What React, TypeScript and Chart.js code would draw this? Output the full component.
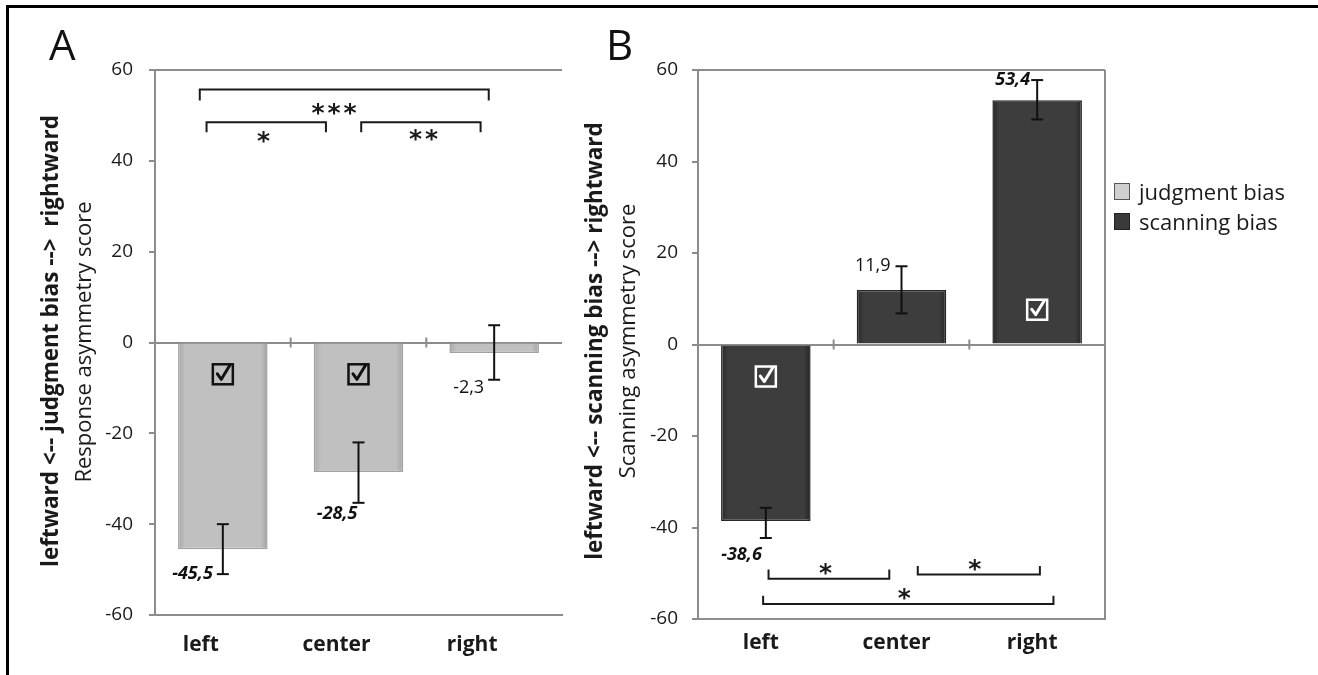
import React, { useEffect, useRef } from "react";
import { Chart, registerables } from "chart.js";
Chart.register(...registerables);

// ---------- data ----------
const categories = ["left", "center", "right"];
const yTicks = [-60, -40, -20, 0, 20, 40, 60];

const judgmentValues = [-45.5, -28.5, -2.3];
const judgmentErrLow = [-51, -35.3, -8.2];
const judgmentErrHigh = [-40, -22, 3.8];
const judgmentChecks = [-7, -7, null];

const scanningValues = [-38.6, 11.9, 53.4];
const scanningErrLow = [-42.3, 6.8, 49.2];
const scanningErrHigh = [-35.7, 17.1, 57.8];
const scanningChecks = [-7, null, 7.6];

// significance brackets: [from, to, lineY, tipY] in category / value units
const judgmentBrackets = [
  [-0.17, 1.96, 55.7, 53.3],
  [-0.12, 0.76, 48.5, 46.3],
  [1.02, 1.9, 48.5, 46.3],
];
const judgmentStars = ["***", "*", "**"];
const judgmentStarPos = [
  [0.82, 52.0],
  [0.3, 46.0],
  [1.48, 46.3],
];

const scanningBrackets = [
  [0.02, 0.91, -51.2, -49.2],
  [1.12, 2.02, -50.3, -48.4],
  [-0.02, 2.12, -56.7, -54.9],
];
const scanningStars = ["*", "*", "*"];
const scanningStarPos = [
  [0.44, -48.4],
  [1.54, -47.5],
  [1.02, -53.8],
];

// value label anchors (px offset from category centre, value units)
const judgmentLabelDx = [-10, -1, -10];
const judgmentLabelY = [-51, -37.7, -10.1];
const judgmentLabelBold = [true, true, false];

const scanningLabelDx = [-4, -11, -7];
const scanningLabelY = [-45.9, 17.1, 57.8];
const scanningLabelBold = [true, false, true];

// ---------- style ----------
const AXIS = "#8c8c8c";
const FONT = "'Open Sans', sans-serif";
const LIGHT = ["#a8a8a8", "#c0c0c0", "#c0c0c0", "#a3a3a3"];
const DARK = ["#292929", "#3d3d3d", "#3d3d3d", "#262626"];

const fmt = (v: number) => v.toFixed(1).replace(".", ",");

type Panel = {
  values: number[];
  errLow: number[];
  errHigh: number[];
  checks: (number | null)[];
  checkColor: string;
  shades: string[];
  borderColor: string;
  brackets: number[][];
  stars: string[];
  starPos: number[][];
  labelDx: number[];
  labelY: number[];
  labelBold: boolean[];
  yAxisWidth: number;
  rightPad: number;
  xHeight: number;
  xPad: number;
  labelOffset: number;
  rightBorder: boolean;
  tickPad: number;
};

const BAR_PCT = 0.66;

function line(ctx: CanvasRenderingContext2D, x1: number, y1: number, x2: number, y2: number) {
  ctx.beginPath();
  ctx.moveTo(x1, y1);
  ctx.lineTo(x2, y2);
  ctx.stroke();
}

function drawCheck(ctx: CanvasRenderingContext2D, cx: number, cy: number, color: string) {
  ctx.save();
  ctx.strokeStyle = color;
  ctx.lineWidth = 2.5;
  ctx.strokeRect(cx - 10, cy - 10, 20, 20);
  ctx.lineWidth = 3;
  ctx.lineJoin = "round";
  ctx.lineCap = "round";
  ctx.beginPath();
  ctx.moveTo(cx - 5.5, cy - 0.5);
  ctx.lineTo(cx - 1.5, cy + 5);
  ctx.lineTo(cx + 7, cy - 9);
  ctx.stroke();
  ctx.restore();
}

function barFill(shades: string[]) {
  return (c: any) => {
    const chart = c.chart;
    const xs = chart.scales && chart.scales.x;
    if (!chart.chartArea || !xs || c.dataIndex === undefined) return shades[1];
    const cx = xs.getPixelForValue(c.dataIndex);
    const w = (xs.width / categories.length) * BAR_PCT;
    const g = chart.ctx.createLinearGradient(cx - w / 2, 0, cx + w / 2, 0);
    g.addColorStop(0, shades[0]);
    g.addColorStop(0.08, shades[1]);
    g.addColorStop(0.92, shades[2]);
    g.addColorStop(1, shades[3]);
    return g;
  };
}

function overlay(p: Panel) {
  return {
    id: "overlay",
    afterDatasetsDraw(chart: any) {
      const ctx: CanvasRenderingContext2D = chart.ctx;
      const xs = chart.scales.x;
      const ys = chart.scales.y;
      const ca = chart.chartArea;
      ctx.save();
      // category boundary ticks on the zero line
      ctx.strokeStyle = AXIS;
      ctx.lineWidth = 2;
      const zy = ys.getPixelForValue(0);
      for (let i = 0; i < categories.length - 1; i++) {
        const bx = (xs.getPixelForValue(i) + xs.getPixelForValue(i + 1)) / 2;
        line(ctx, bx, zy - 5, bx, zy + 5);
      }
      if (p.rightBorder) line(ctx, ca.right, ca.top, ca.right, ca.bottom);

      // checkboxes
      p.checks.forEach((v, i) => {
        if (v === null) return;
        drawCheck(ctx, xs.getPixelForValue(i), ys.getPixelForValue(v), p.checkColor);
      });

      // error bars
      ctx.strokeStyle = "#111";
      ctx.lineWidth = 2;
      p.values.forEach((_, i) => {
        const cx = xs.getPixelForValue(i);
        const yl = ys.getPixelForValue(p.errLow[i]);
        const yh = ys.getPixelForValue(p.errHigh[i]);
        line(ctx, cx, yl, cx, yh);
        line(ctx, cx - 6, yl, cx + 6, yl);
        line(ctx, cx - 6, yh, cx + 6, yh);
      });

      // value labels
      ctx.fillStyle = "#111";
      ctx.textAlign = "right";
      ctx.textBaseline = "middle";
      p.values.forEach((v, i) => {
        ctx.font = (p.labelBold[i] ? "italic bold " : "") + "18px " + FONT;
        ctx.fillText(fmt(v), xs.getPixelForValue(i) + p.labelDx[i], ys.getPixelForValue(p.labelY[i]));
      });

      // significance brackets
      ctx.strokeStyle = "#1a1a1a";
      ctx.lineWidth = 2;
      p.brackets.forEach((b) => {
        const x1 = xs.getPixelForValue(b[0]);
        const x2 = xs.getPixelForValue(b[1]);
        const y = ys.getPixelForValue(b[2]);
        const t = ys.getPixelForValue(b[3]);
        ctx.beginPath();
        ctx.moveTo(x1, t);
        ctx.lineTo(x1, y);
        ctx.lineTo(x2, y);
        ctx.lineTo(x2, t);
        ctx.stroke();
      });
      ctx.fillStyle = "#1a1a1a";
      ctx.font = "bold 25px 'DejaVu Sans', sans-serif";
      ctx.textAlign = "center";
      ctx.textBaseline = "alphabetic";
      p.stars.forEach((s, i) => {
        const cx = xs.getPixelForValue(p.starPos[i][0]);
        const cy = ys.getPixelForValue(p.starPos[i][1]);
        const n = s.length;
        for (let k = 0; k < n; k++) {
          ctx.fillText("*", cx + (k - (n - 1) / 2) * 16, cy + 15);
        }
      });
      ctx.restore();
    },
  };
}

function PanelChart({ p, left, width }: { p: Panel; left: number; width: number }) {
  const ref = useRef<HTMLCanvasElement>(null);
  useEffect(() => {
    if (!ref.current) return;
    const chart = new Chart(ref.current, {
      type: "bar",
      data: {
        labels: categories,
        datasets: [
          {
            data: p.values,
            backgroundColor: barFill(p.shades),
            borderColor: p.borderColor,
            borderWidth: 1.5,
            borderSkipped: "start",
            barPercentage: BAR_PCT,
            categoryPercentage: 1,
          },
        ],
      },
      options: {
        responsive: false,
        animation: false,
        events: [],
        layout: { padding: { top: 70, right: p.rightPad, left: 0, bottom: 0 } },
        plugins: { legend: { display: false }, tooltip: { enabled: false } },
        scales: {
          x: {
            grid: { display: false, drawTicks: false },
            border: { display: true, color: AXIS, width: 2 },
            ticks: {
              color: "#1a1a1a",
              font: { family: FONT, size: 21, weight: "bold" },
              padding: p.xPad,
              labelOffset: p.labelOffset,
            },
            afterFit: (s: any) => {
              s.height = p.xHeight;
              s.paddingLeft = 0;
              s.paddingRight = 0;
            },
          },
          y: {
            min: -60,
            max: 60,
            afterBuildTicks: (s: any) => {
              s.ticks = yTicks.map((v) => ({ value: v }));
            },
            grid: {
              color: (c: any) => (c.tick && (c.tick.value === 60 || c.tick.value === 0) ? AXIS : "rgba(0,0,0,0)"),
              tickColor: AXIS,
              tickLength: 6,
              lineWidth: 2,
            },
            border: { display: true, color: AXIS, width: 2 },
            ticks: {
              color: "#1a1a1a",
              font: { family: FONT, size: 19 },
              padding: p.tickPad,
            },
            afterFit: (s: any) => {
              s.width = p.yAxisWidth;
              s.paddingTop = 0;
              s.paddingBottom = 0;
            },
          },
        },
      } as any,
      plugins: [overlay(p)],
    });
    return () => chart.destroy();
  }, []);
  return (
    <canvas
      ref={ref}
      width={width}
      height={675}
      style={{ position: "absolute", left, top: 0, width, height: 675 }}
    />
  );
}

const panelA: Panel = {
  values: judgmentValues,
  errLow: judgmentErrLow,
  errHigh: judgmentErrHigh,
  checks: judgmentChecks,
  checkColor: "#111",
  shades: LIGHT,
  borderColor: "#a2a2a2",
  brackets: judgmentBrackets,
  stars: judgmentStars,
  starPos: judgmentStarPos,
  labelDx: judgmentLabelDx,
  labelY: judgmentLabelY,
  labelBold: judgmentLabelBold,
  yAxisWidth: 155,
  rightPad: 18,
  xHeight: 60,
  xPad: 17,
  labelOffset: -22,
  rightBorder: false,
  tickPad: 16,
};

const panelB: Panel = {
  values: scanningValues,
  errLow: scanningErrLow,
  errHigh: scanningErrHigh,
  checks: scanningChecks,
  checkColor: "#ffffff",
  shades: DARK,
  borderColor: "#262626",
  brackets: scanningBrackets,
  stars: scanningStars,
  starPos: scanningStarPos,
  labelDx: scanningLabelDx,
  labelY: scanningLabelY,
  labelBold: scanningLabelBold,
  yAxisWidth: 118,
  rightPad: 20,
  xHeight: 56,
  xPad: 11,
  labelOffset: -5,
  rightBorder: true,
  tickPad: 14,
};

const vText = (cx: number, cy: number, text: string, style: React.CSSProperties) => (
  <div
    style={{
      position: "absolute",
      left: cx,
      top: cy,
      transform: "translate(-50%, -50%) rotate(-90deg)",
      whiteSpace: "pre",
      fontFamily: FONT,
      color: "#1a1a1a",
      lineHeight: 1,
      ...style,
    }}
  >
    {text}
  </div>
);

export default function App() {
  return (
    <div
      style={{
        position: "fixed",
        left: 0,
        top: 0,
        width: 1318,
        height: 675,
        background: "#fff",
        overflow: "hidden",
      }}
    >
      <PanelChart p={panelA} left={0} width={580} />
      <PanelChart p={panelB} left={580} width={545} />
      <div
        style={{
          position: "absolute",
          left: 6,
          top: 5,
          width: 1330,
          height: 700,
          borderTop: "3px solid #000",
          borderLeft: "3px solid #000",
          pointerEvents: "none",
        }}
      />
      <div style={{ position: "absolute", left: 49, top: 19, fontFamily: FONT, fontSize: 42, color: "#111", lineHeight: 1.2 }}>
        A
      </div>
      <div style={{ position: "absolute", left: 606, top: 19, fontFamily: FONT, fontSize: 42, color: "#111", lineHeight: 1.2 }}>
        B
      </div>
      {vText(50, 341, "leftward <-- judgment bias -->  rightward", { fontWeight: "bold", fontSize: 22.5 })}
      {vText(82, 342, "Response asymmetry score", { fontSize: 22 })}
      {vText(594, 341, "leftward <-- scanning bias --> rightward", { fontWeight: "bold", fontSize: 22.5 })}
      {vText(626, 341, "Scanning asymmetry score", { fontSize: 22 })}
      <div style={{ position: "absolute", left: 1114, top: 176, fontFamily: FONT, fontSize: 22, color: "#1a1a1a" }}>
        <div style={{ display: "flex", alignItems: "center", height: 30 }}>
          <span
            style={{
              display: "inline-block",
              width: 14,
              height: 15,
              background: "#cfcfcf",
              border: "1px solid #555",
              marginRight: 9,
            }}
          />
          judgment bias
        </div>
        <div style={{ display: "flex", alignItems: "center", height: 30 }}>
          <span
            style={{
              display: "inline-block",
              width: 14,
              height: 15,
              background: "#3a3a3a",
              border: "1px solid #222",
              marginRight: 9,
            }}
          />
          scanning bias
        </div>
      </div>
    </div>
  );
}
